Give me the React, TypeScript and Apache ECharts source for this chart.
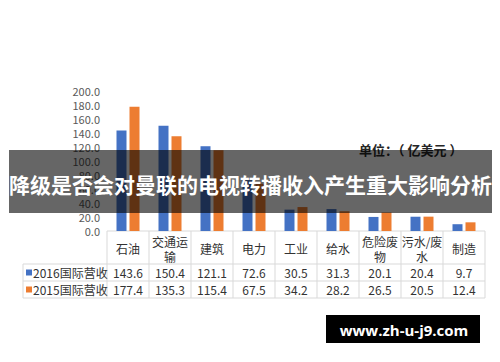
import React, { useEffect, useRef } from "react";
import * as echarts from "echarts";

const categories = ["石油", "交通运输", "建筑", "电力", "工业", "给水", "危险废物", "污水/废水", "制造"];
const headerLabels = ["石油", "交通运\n输", "建筑", "电力", "工业", "给水", "危险废\n物", "污水/废\n水", "制造"];
const series2016 = [143.6, 150.4, 121.1, 72.6, 30.5, 31.3, 20.1, 20.4, 9.7];
const series2015 = [177.4, 135.3, 115.4, 67.5, 34.2, 28.2, 26.5, 20.5, 12.4];
const seriesNames = ["2016国际营收", "2015国际营收"];
const yTicks = { min: 0, max: 200, interval: 20 };
const titleText = "降级是否会对曼联的电视转播收入产生重大影响分析";
const unitText = "单位：（ 亿美元 ）";
const watermarkText = "www.zh-u-j9.com";

const COLORS = ["#4472C4", "#ED7D31"];
const FONT = "'Noto Sans CJK SC', 'Noto Sans', sans-serif";

export default function App() {
  const ref = useRef<HTMLDivElement>(null);
  useEffect(() => {
    if (!ref.current) return;
    const chart = echarts.init(ref.current, undefined, { renderer: "svg" });
    const gridLeft = 107;
    const gridRight = 15;
    const colW = (500 - gridLeft - gridRight) / categories.length;
    const tableTop = 231;
    const rowY = [264, 281, 298];
    const tableLeft = 23;
    const tableRight = 500 - gridRight;
    const lineColor = "#d9d9d9";
    const textColor = "#333";

    const g: any[] = [];
    g.push({ type: "line", shape: { x1: gridLeft, y1: tableTop, x2: tableRight, y2: tableTop }, style: { stroke: lineColor, lineWidth: 1 } });
    rowY.forEach((y) => {
      g.push({ type: "line", shape: { x1: tableLeft, y1: y, x2: tableRight, y2: y }, style: { stroke: lineColor, lineWidth: 1 } });
    });
    g.push({ type: "line", shape: { x1: tableLeft, y1: rowY[0], x2: tableLeft, y2: rowY[2] }, style: { stroke: lineColor, lineWidth: 1 } });
    for (let i = 0; i <= categories.length; i++) {
      const x = gridLeft + colW * i;
      g.push({ type: "line", shape: { x1: x, y1: tableTop, x2: x, y2: rowY[2] }, style: { stroke: lineColor, lineWidth: 1 } });
    }
    headerLabels.forEach((lab, i) => {
      g.push({
        type: "text",
        x: gridLeft + colW * (i + 0.5),
        y: (tableTop + rowY[0]) / 2 + 1,
        style: { text: lab, fill: textColor, font: `12px ${FONT}`, align: "center", verticalAlign: "middle", lineHeight: 15 },
      });
    });
    [series2016, series2015].forEach((vals, r) => {
      const cy = (rowY[r] + rowY[r + 1]) / 2;
      g.push({ type: "rect", shape: { x: 26, y: cy - 3, width: 6, height: 6 }, style: { fill: COLORS[r] } });
      g.push({
        type: "text",
        x: 33,
        y: cy,
        style: { text: seriesNames[r], fill: textColor, font: `12px ${FONT}`, align: "left", verticalAlign: "middle" },
      });
      vals.forEach((v, i) => {
        g.push({
          type: "text",
          x: gridLeft + colW * (i + 0.5),
          y: cy,
          style: { text: v.toFixed(1), fill: textColor, font: `12px ${FONT}`, align: "center", verticalAlign: "middle" },
        });
      });
    });
    g.push({
      type: "text",
      x: 359,
      y: 149,
      style: { text: unitText, fill: "#262626", font: `bold 13px ${FONT}`, align: "left", verticalAlign: "middle" },
      z: 10,
    });
    g.push({ type: "rect", shape: { x: 9, y: 150, width: 483, height: 63 }, style: { fill: "rgba(0,0,0,0.6)" }, z: 100 });
    g.push({
      type: "text",
      x: 250.5,
      y: 184,
      style: { text: titleText, fill: "#fff", font: `bold 21px ${FONT}`, align: "center", verticalAlign: "middle" },
      z: 101,
    });
    g.push({ type: "rect", shape: { x: 326, y: 315, width: 154, height: 28 }, style: { fill: "#000" }, z: 100 });
    g.push({
      type: "text",
      x: 404,
      y: 330,
      style: { text: watermarkText, fill: "#fff", font: `bold 15px 'Open Sans', 'Noto Sans', sans-serif`, align: "center", verticalAlign: "middle" },
      z: 101,
    });

    chart.setOption({
      animation: false,
      grid: { left: gridLeft, right: gridRight, top: 91, bottom: 362 - tableTop, containLabel: false },
      xAxis: {
        type: "category",
        data: categories,
        axisLabel: { show: false },
        axisTick: { show: false },
        axisLine: { show: false },
      },
      yAxis: {
        type: "value",
        min: yTicks.min,
        max: yTicks.max,
        interval: yTicks.interval,
        axisLabel: { formatter: (v: number) => v.toFixed(1), fontSize: 11, color: "#595959", margin: 7, fontFamily: FONT },
        axisLine: { show: false },
        axisTick: { show: false },
        splitLine: { show: false },
      },
      series: [
        { name: seriesNames[0], type: "bar", data: series2016, barWidth: 10, barGap: "30%", itemStyle: { color: COLORS[0] } },
        { name: seriesNames[1], type: "bar", data: series2015, barWidth: 10, barGap: "30%", itemStyle: { color: COLORS[1] } },
      ],
      graphic: { elements: g },
    });
    return () => chart.dispose();
  }, []);
  return <div ref={ref} style={{ width: 500, height: 362, position: "absolute", left: 0, top: 0 }} />;
}
